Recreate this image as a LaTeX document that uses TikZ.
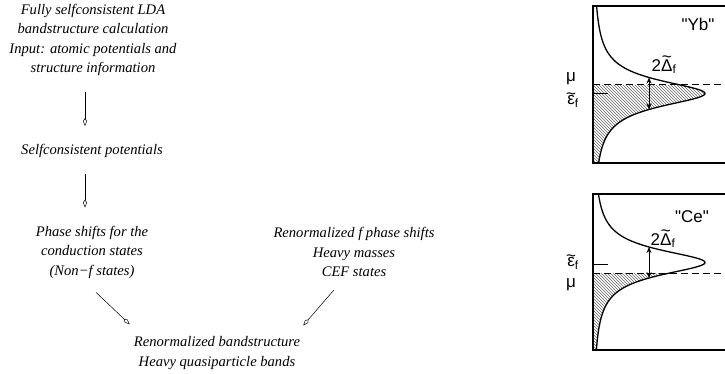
\documentclass[tikz,border=0pt]{standalone}
\usepackage{fontspec}
\setmainfont{Liberation Serif}
\newfontfamily\labelfont{Liberation Sans}
\usetikzlibrary{arrows.meta,patterns}

% tilde put over a letter
\newcommand{\wavyon}[2]{\leavevmode\setbox0\hbox{#2}\rlap{\hbox to\wd0{\hss\raisebox{#1}{\textasciitilde}\hss}}\box0}

\tikzset{
  flowtext/.style={align=center, inner sep=0pt, font=\itshape\fontsize{14.6}{19.5}\selectfont},
  flow/.style={line width=0.5pt, -{Kite[open,length=8pt,width=4pt,inset=3pt]}},
  dosbox/.style={line width=1.3pt},
  dos/.style={line width=1.3pt},
  hatch/.style={pattern=north west lines, pattern color=black!60},
  fermi/.style={line width=1pt, dash pattern=on 7pt off 4pt},
  lbl/.style={inner sep=0pt, font=\labelfont\fontsize{17}{17}\selectfont},
  gaparrow/.style={line width=1pt, {Stealth[length=6pt,width=5pt]}-{Stealth[length=6pt,width=5pt]}},
}

\begin{document}
\begin{tikzpicture}[x=1pt, y=-1pt,
    declare function={lor(\y,\c,\w)=593+112/(1+((\y-\c)/\w)^2);}]
  \useasboundingbox (0,0) rectangle (725,374);

  % flow chart
  \node[flowtext] (lda) at (93,40) {Fully selfconsistent LDA\\bandstructure calculation\\Input: atomic potentials and\\structure information};
  \node[flowtext] (pot) at (92,151) {Selfconsistent potentials};
  \node[flowtext] (phase) at (92,252) {Phase shifts for the\\conduction states\\(Non−f states)};
  \node[flowtext] (renf) at (354,252) {Renormalized f phase shifts\\Heavy masses\\CEF states};
  \node[flowtext] (bands) at (217,353) {Renormalized bandstructure\\Heavy quasiparticle bands};

  \draw[flow] ([xshift=-8pt,yshift=-16pt]lda.south) -- ([xshift=-7pt,yshift=18pt]pot.north);
  \draw[flow] ([xshift=-7pt,yshift=-16pt]pot.south) -- ([xshift=-7pt,yshift=18pt]phase.north);
  \draw[flow] ([xshift=4pt,yshift=-14pt]phase.south) -- ([xshift=-4pt,yshift=12pt]bands.north west);
  \draw[flow] ([xshift=-20pt,yshift=-13pt]renf.south) -- ([xshift=3pt,yshift=11pt]bands.north east);

  % "Yb" panel
  \fill[hatch] (593,85)
    -- plot[domain=85:163, samples=60] ({lor(\x,93.5,16)},\x) -- (593,163) -- cycle;
  \draw[dosbox] (725,6) -- (593,6) -- (593,163) -- (725,163);
  \draw[dos] plot[domain=6:163, samples=150] ({lor(\x,93.5,16)},\x);
  \draw[line width=1pt] (593,94) -- (608,94);
  \draw[fermi] (593,85) -- (725,85);
  \draw[gaparrow] (649,77.5) -- (649,109.5);
  \node[lbl] (yb) at (698,24) {"Yb"};
  \node[lbl] (dyb) at (664,65) {2\wavyon{0.5em}{Δ}\textsubscript{f}};
  \node[lbl] (muyb) at (571,79) {μ};
  \node[lbl] (efyb) at (573,100) {\wavyon{0.3em}{ε}\textsubscript{f}};

  % "Ce" panel
  \fill[hatch] (593,273)
    -- plot[domain=273:350, samples=60] ({lor(\x,262.5,15.5)},\x) -- (593,350) -- cycle;
  \draw[dosbox] (725,194) -- (593,194) -- (593,350) -- (725,350);
  \draw[dos] plot[domain=194:350, samples=150] ({lor(\x,262.5,15.5)},\x);
  \draw[line width=1pt] (593,264) -- (608,264);
  \draw[fermi] (593,273) -- (725,273);
  \draw[gaparrow] (649,247) -- (649,278);
  \node[lbl] (ce) at (692,217) {"Ce"};
  \node[lbl] (dce) at (663,239) {2\wavyon{0.5em}{Δ}\textsubscript{f}};
  \node[lbl] (efce) at (573,262) {\wavyon{0.3em}{ε}\textsubscript{f}};
  \node[lbl] (muce) at (571,285) {μ};
\end{tikzpicture}
\end{document}
